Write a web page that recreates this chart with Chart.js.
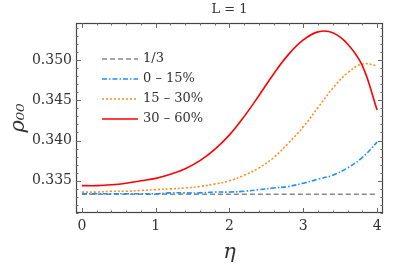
<!DOCTYPE html>
<html>
<head>
<meta charset="utf-8">
<script src="https://cdn.jsdelivr.net/npm/chart.js@4"></script>
<style>
  html, body { margin: 0; padding: 0; background: #fff; }
  #wrap { width: 407px; height: 265px; }
</style>
</head>
<body>
<div id="wrap"><canvas id="chart"></canvas></div>
<script>
const eta = [0, 0.2, 0.4, 0.6, 0.8, 1.0, 1.2, 1.4, 1.6, 1.8, 2.0, 2.2, 2.4, 2.6, 2.8, 3.0, 3.2, 3.4, 3.6, 3.8, 4.0];

const red = [0.3344, 0.3344, 0.3345, 0.3347, 0.3350, 0.3353, 0.3358, 0.3365, 0.3375, 0.3389, 0.3407,
  0.3430, 0.3456, 0.3483, 0.3507, 0.3525, 0.3535, 0.3534, 0.3520, 0.3493, 0.3438];
const orange = [0.3336, 0.3336, 0.3337, 0.3337, 0.3338, 0.3339, 0.3340, 0.3341, 0.3343, 0.3346, 0.3350,
  0.3357, 0.3366, 0.3379, 0.3397, 0.3417, 0.3441, 0.3465, 0.3484, 0.3495, 0.3493];
const blue = [0.3334, 0.3334, 0.3334, 0.3334, 0.3334, 0.3334, 0.3335, 0.3335, 0.3335, 0.3336, 0.3336,
  0.3337, 0.3339, 0.3341, 0.3343, 0.3347, 0.3352, 0.3357, 0.3366, 0.3379, 0.3398];
const thirdEta = [0, 4];
const third = [1 / 3, 1 / 3];

const labels = ["1/3", "0 \u2013 15%", "15 \u2013 30%", "30 \u2013 60%"];
const xTicks = [0, 1, 2, 3, 4];
const yTicks = [0.335, 0.340, 0.345, 0.350];

const serif = "'DejaVu Serif', serif";

const pts = (xs, ys) => xs.map((x, i) => ({ x: x, y: ys[i] }));

// frame with inward ticks on all four sides, like the original
const framePlugin = {
  id: "frame",
  afterDraw(chart) {
    const { ctx, chartArea: a, scales: { x, y } } = chart;
    ctx.save();
    ctx.strokeStyle = "#444";
    ctx.lineWidth = 1.2;
    ctx.strokeRect(a.left + 0.5, a.top + 0.5, a.right - a.left - 1, a.bottom - a.top - 1);
    ctx.strokeStyle = "#666";
    ctx.lineWidth = 1;
    ctx.beginPath();
    for (let v = 0; v <= 4.0001; v += 0.2) {
      const px = Math.round(x.getPixelForValue(v)) + 0.5;
      const len = Math.abs(v - Math.round(v)) < 1e-6 ? 5 : 2.5;
      ctx.moveTo(px, a.bottom); ctx.lineTo(px, a.bottom - len);
      ctx.moveTo(px, a.top); ctx.lineTo(px, a.top + len);
    }
    for (let k = 331; k <= 354; k++) {
      const py = Math.round(y.getPixelForValue(k / 1000)) + 0.5;
      const len = k % 5 === 0 ? 5 : 2.5;
      ctx.moveTo(a.left, py); ctx.lineTo(a.left + len, py);
      ctx.moveTo(a.right, py); ctx.lineTo(a.right - len, py);
    }
    ctx.stroke();
    ctx.restore();
  }
};

// legend drawn inside the plot, top left
const innerLegend = {
  id: "innerLegend",
  afterDraw(chart) {
    const { ctx, chartArea: a } = chart;
    ctx.save();
    ctx.font = "13px " + serif;
    ctx.textBaseline = "middle";
    chart.data.datasets.forEach((ds, i) => {
      const yy = a.top + 36 + i * 20;
      ctx.strokeStyle = ds.borderColor;
      ctx.lineWidth = ds.borderWidth;
      ctx.setLineDash(ds.borderDash || []);
      ctx.beginPath();
      ctx.moveTo(a.left + 26, yy);
      ctx.lineTo(a.left + 62, yy);
      ctx.stroke();
      ctx.setLineDash([]);
      ctx.fillStyle = "#333";
      ctx.fillText(ds.label, a.left + 67, yy);
    });
    ctx.restore();
  }
};

new Chart(document.getElementById("chart"), {
  type: "line",
  data: {
    datasets: [
      { label: labels[0], data: pts(thirdEta, third), borderColor: "#888888", borderWidth: 1.5, borderDash: [5, 3], order: 4 },
      { label: labels[1], data: pts(eta, blue), borderColor: "#1e8fff", borderWidth: 1.6, borderDash: [5, 2, 1.5, 2], order: 3 },
      { label: labels[2], data: pts(eta, orange), borderColor: "#ff8c1a", borderWidth: 1.6, borderDash: [2, 2], order: 2 },
      { label: labels[3], data: pts(eta, red), borderColor: "#ff0000", borderWidth: 1.6, order: 1 }
    ]
  },
  options: {
    responsive: true,
    maintainAspectRatio: false,
    animation: false,
    layout: { padding: { left: 0, right: 24, top: 0, bottom: 0 } },
    elements: { point: { radius: 0 }, line: { tension: 0.4 } },
    plugins: {
      legend: { display: false },
      tooltip: { enabled: false },
      title: {
        display: true,
        text: "L = 1",
        fullSize: false,
        color: "#333",
        font: { family: serif, size: 13, weight: "normal" },
        padding: { top: 2, bottom: 5.4 }
      }
    },
    scales: {
      x: {
        type: "linear",
        min: -0.08,
        max: 4.08,
        afterBuildTicks: s => { s.ticks = xTicks.map(v => ({ value: v })); },
        afterFit: s => { s.height = 52; },
        grid: { display: false, drawTicks: false },
        border: { display: false },
        ticks: { color: "#333", padding: 5, font: { family: serif, size: 14 }, maxRotation: 0 },
        title: {
          display: true,
          text: "\u03b7",
          color: "#333",
          padding: { top: 0, bottom: 0 },
          font: { family: serif, size: 21, style: "italic" }
        }
      },
      y: {
        min: 0.3310,
        max: 0.3546,
        afterBuildTicks: s => { s.ticks = yTicks.map(v => ({ value: v })); },
        afterFit: s => { s.width = 76; },
        grid: { display: false, drawTicks: false },
        border: { display: false },
        ticks: {
          color: "#333",
          padding: 4,
          font: { family: serif, size: 14 },
          callback: v => v.toFixed(3)
        },
        title: {
          display: true,
          text: "\u03c1\u2080\u2080",
          color: "#333",
          padding: { top: 6, bottom: 0 },
          font: { family: serif, size: 21, style: "italic" }
        }
      }
    }
  },
  plugins: [framePlugin, innerLegend]
});
</script>
</body>
</html>
